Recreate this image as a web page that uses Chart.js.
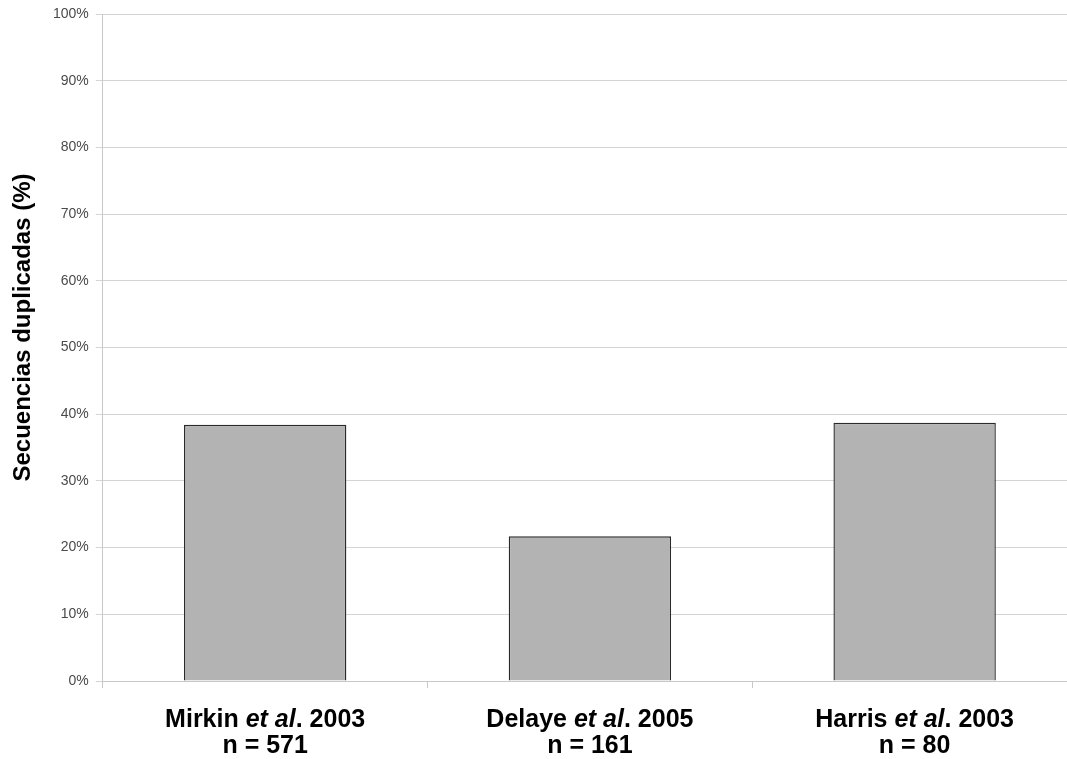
<!DOCTYPE html>
<html>
<head>
<meta charset="utf-8">
<script src="https://cdn.jsdelivr.net/npm/chart.js@4"></script>
<style>
	html, body { margin: 0; padding: 0; background: #fff; overflow: hidden; }
	#wrap { width: 1085px; height: 759px; }
</style>
</head>
<body>
<div id="wrap"><canvas id="grafico" width="1085" height="759"></canvas></div>
<script>
// Datos del gráfico
const autores = ['Mirkin', 'Delaye', 'Harris']
const anios = ['2003', '2005', '2003']
const tamanos = ['n = 571', 'n = 161', 'n = 80']
const duplicadas = [38.4, 21.7, 38.7] // % de secuencias duplicadas
const ticksY = [0, 10, 20, 30, 40, 50, 60, 70, 80, 90, 100]
const tituloY = 'Secuencias duplicadas (%)'

const fuente = '"Liberation Sans", Arial, sans-serif'

// Etiquetas del eje X con "et al." en cursiva y título del eje Y
const etiquetas = {
	id: 'etiquetas',
	afterDraw(chart) {
		const ctx = chart.ctx
		const x = chart.scales.x
		const area = chart.chartArea
		const base = area.bottom
		ctx.save()
		ctx.fillStyle = '#000'
		ctx.textBaseline = 'alphabetic'
		autores.forEach((autor, i) => {
			const cx = x.getPixelForValue(i)
			const partes = [
				{ t: autor + ' ', f: 'bold 25px ' + fuente },
				{ t: 'et al', f: 'italic bold 25px ' + fuente },
				{ t: '. ' + anios[i], f: 'bold 25px ' + fuente }
			]
			let total = 0
			partes.forEach(p => { ctx.font = p.f; p.w = ctx.measureText(p.t).width; total += p.w })
			let px = cx - total / 2
			ctx.textAlign = 'left'
			partes.forEach(p => { ctx.font = p.f; ctx.fillText(p.t, px, base + 46); px += p.w })
			ctx.font = 'bold 25px ' + fuente
			ctx.textAlign = 'center'
			ctx.fillText(tamanos[i], cx, base + 72)
		})

		// título vertical
		ctx.translate(23, (area.top + area.bottom) / 2 - 20)
		ctx.rotate(-Math.PI / 2)
		ctx.font = 'bold 24px ' + fuente
		ctx.textAlign = 'center'
		ctx.textBaseline = 'middle'
		ctx.fillText(tituloY, 0, 0)
		ctx.restore()
	}
}

document.addEventListener('DOMContentLoaded', () => {
	const ctx = document.getElementById('grafico').getContext('2d')
	new Chart(ctx, {
		type: 'bar',
		data: {
			labels: autores,
			datasets: [{
				data: duplicadas,
				backgroundColor: '#b3b3b3',
				borderColor: '#2a2a2a',
				borderWidth: 1.4,
				categoryPercentage: 1,
				barPercentage: 0.5
			}]
		},
		options: {
			responsive: false,
			animation: false,
			layout: { padding: { left: 46, right: 8, top: 13, bottom: 71 } },
			plugins: {
				legend: { display: false },
				tooltip: { enabled: false }
			},
			scales: {
				x: {
					offset: true,
					grid: {
						offset: true,
						drawOnChartArea: false,
						tickLength: 7,
						color: '#c8c8c8'
					},
					border: { color: '#c8c8c8' },
					ticks: { display: false }
				},
				y: {
					min: 0,
					max: 100,
					afterBuildTicks: axis => { axis.ticks = ticksY.map(v => ({ value: v })) },
					grid: { color: '#d4d4d4', tickLength: 7 },
					border: { color: '#c8c8c8' },
					ticks: {
						padding: 7,
						color: '#4a4a4a',
						font: { family: fuente, size: 14, lineHeight: 1 },
						callback: v => v + '%'
					}
				}
			}
		},
		plugins: [etiquetas]
	})
})
</script>
</body>
</html>
